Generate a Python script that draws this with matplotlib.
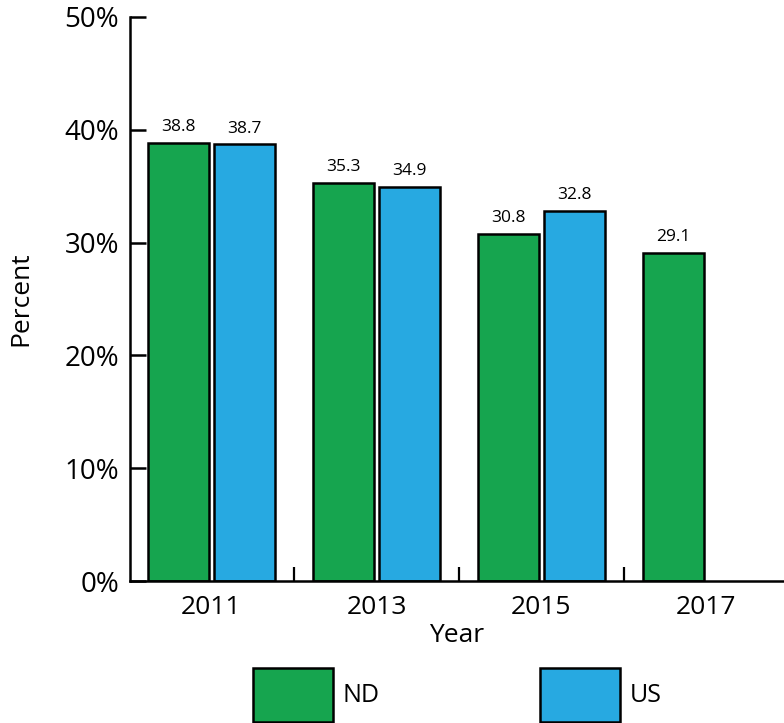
import matplotlib
matplotlib.use('Agg')
import matplotlib.pyplot as plt
from matplotlib.patches import Patch
import numpy as np

YEARS = ["2011", "2013", "2015", "2017"]
ND = [38.8, 35.3, 30.8, 29.1]
US = [38.7, 34.9, 32.8, None]
YTICKS = [0, 10, 20, 30, 40, 50]

GREEN = "#16a54f"
BLUE = "#27a9e1"

plt.rcParams['font.family'] = ['Open Sans', 'DejaVu Sans']

fig = plt.figure(figsize=(7.84, 7.23), dpi=100)
ax = fig.add_axes([0.1658, 0.1964, 0.8342, 0.7801])

x = np.arange(len(YEARS))
w = 0.37
off = 0.2

for i, v in enumerate(ND):
    ax.bar(x[i] - off, v, w, color=GREEN, edgecolor="black", linewidth=1.8)
    ax.text(x[i] - off, v + 0.7, "{:.1f}".format(v), ha="center", va="bottom", fontsize=12.5)
for i, v in enumerate(US):
    if v is None:
        continue
    ax.bar(x[i] + off, v, w, color=BLUE, edgecolor="black", linewidth=1.8)
    ax.text(x[i] + off, v + 0.7, "{:.1f}".format(v), ha="center", va="bottom", fontsize=12.5)

ax.set_xlim(-0.494, 3.47)
ax.set_ylim(0, 50)

ax.set_xticks(x)
ax.set_xticklabels(YEARS, fontsize=19)
ax.set_xticks(x[:-1] + 0.5, minor=True)
ax.tick_params(axis='x', which='major', length=0, pad=10)
ax.tick_params(axis='x', which='minor', direction='in', length=10, width=1.6)

ax.set_yticks(YTICKS)
ax.set_yticklabels(["{}%".format(t) for t in YTICKS], fontsize=20)
ax.tick_params(axis='y', direction='in', length=11.5, width=1.8, pad=8)

for s in ["top", "right"]:
    ax.spines[s].set_visible(False)
for s in ["left", "bottom"]:
    ax.spines[s].set_linewidth(1.8)

ax.set_xlabel("Year", fontsize=19, labelpad=2)
ax.set_ylabel("Percent", fontsize=19, labelpad=22)

handles = [Patch(facecolor=GREEN, edgecolor="black", linewidth=1.8, label="ND"),
           Patch(facecolor=BLUE, edgecolor="black", linewidth=1.8, label="US")]
fig.legend(handles=handles, loc="upper center", bbox_to_anchor=(0.583, 0.093),
           ncol=2, frameon=False, fontsize=18, handlelength=3.2, handleheight=2.9,
           handletextpad=0.4, columnspacing=6.4, borderpad=0)

fig.savefig("out.png", dpi=100)
